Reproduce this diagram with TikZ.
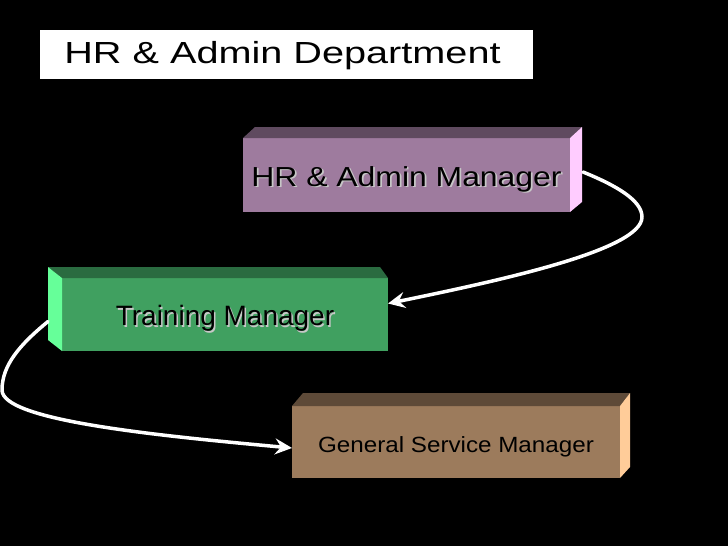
\documentclass[tikz,border=0pt]{standalone}
\usepackage{fontspec}
\setmainfont{Liberation Sans}
\usepackage{graphicx}
\usetikzlibrary{arrows.meta}
\definecolor{hrfront}{HTML}{9E7B9E}
\definecolor{hrtop}{HTML}{5F4A5F}
\definecolor{hrside}{HTML}{FFCCFF}
\definecolor{trfront}{HTML}{40A060}
\definecolor{trtop}{HTML}{2A6B40}
\definecolor{trside}{HTML}{66FF99}
\definecolor{gsfront}{HTML}{9C7B5C}
\definecolor{gstop}{HTML}{5E4A38}
\definecolor{gsside}{HTML}{FFCC99}
\newcommand{\shadowed}[1]{\rlap{\raisebox{-1.5pt}{\hspace{1.5pt}\textcolor{black!22}{#1}}}#1}
\begin{document}
\begin{tikzpicture}[x=1pt, y=-1pt, line join=round, line cap=round,
  box/.style={minimum width=#1, inner sep=0pt, outer sep=0pt},
  flow/.style={draw=white, line width=3.5pt, -{Stealth[length=17pt,width=16pt,inset=6pt]}}]
  \fill[black] (0,0) rectangle (728,546);
  \useasboundingbox (0,0) rectangle (728,546);
  \node[box=493pt, minimum height=49pt, fill=white] (title) at (286.5,54.5)
    {\fontsize{30.5}{36}\selectfont\hspace*{-8pt}\raisebox{-9pt}[0pt][0pt]{\scalebox{1.3}[1]{HR \& Admin Department}}};
  \node[box=327pt, minimum height=74pt, fill=hrfront] (hr) at (406.5,175)
    {\fontsize{27.5}{32}\selectfont\raisebox{-11pt}[0pt][0pt]{\scalebox{1.16}[1]{\shadowed{HR \& Admin Manager}}}};
  \fill[hrtop] (hr.north west) -- ++(12,-11) -- ([shift={(12,-11)}]hr.north east) -- (hr.north east) -- cycle;
  \fill[hrside] (hr.north east) -- ++(12,-11) -- ++(0,75) -- (hr.south east) -- cycle;
  \node[box=326pt, minimum height=73pt, fill=trfront] (train) at (225,314.5)
    {\fontsize{28}{33}\selectfont\raisebox{-11pt}[0pt][0pt]{\shadowed{Training Manager}}};
  \fill[trtop] (train.north west) -- ++(-14,-11) -- ([shift={(-8,-11)}]train.north east) -- (train.north east) -- cycle;
  \fill[trside] (train.north west) -- ++(-14,-11) -- ++(0,73) -- (train.south west) -- cycle;
  \node[box=328pt, minimum height=72pt, fill=gsfront] (gsm) at (456,442)
    {\fontsize{22}{26}\selectfont\raisebox{-10pt}[0pt][0pt]{\scalebox{1.1}[1]{General Service Manager}}};
  \fill[gstop] (gsm.north west) -- ++(11,-13) -- ([shift={(10,-13)}]gsm.north east) -- (gsm.north east) -- cycle;
  \fill[gsside] (gsm.north east) -- ++(10,-13) -- ++(0,74) -- (gsm.south east) -- cycle;
  \coordinate (hrout) at ([xshift=13pt,yshift=3pt]hr.east);
  \coordinate (bendA) at (642,217);
  \coordinate (trout) at ([xshift=-14pt,yshift=-7pt]train.west);
  \coordinate (bendB) at (2,390);
  \draw[flow] (hrout) .. controls +(32,13) and +(0,-17) .. (bendA)
    .. controls +(0,33) and +(112,-23) .. ([yshift=11pt]train.east);
  \draw[flow] (trout) .. controls +(-28,23) and +(0,-25) .. (bendB)
    .. controls +(0,30) and +(-142,-13) .. ([yshift=-6pt]gsm.west);
\end{tikzpicture}
\end{document}
